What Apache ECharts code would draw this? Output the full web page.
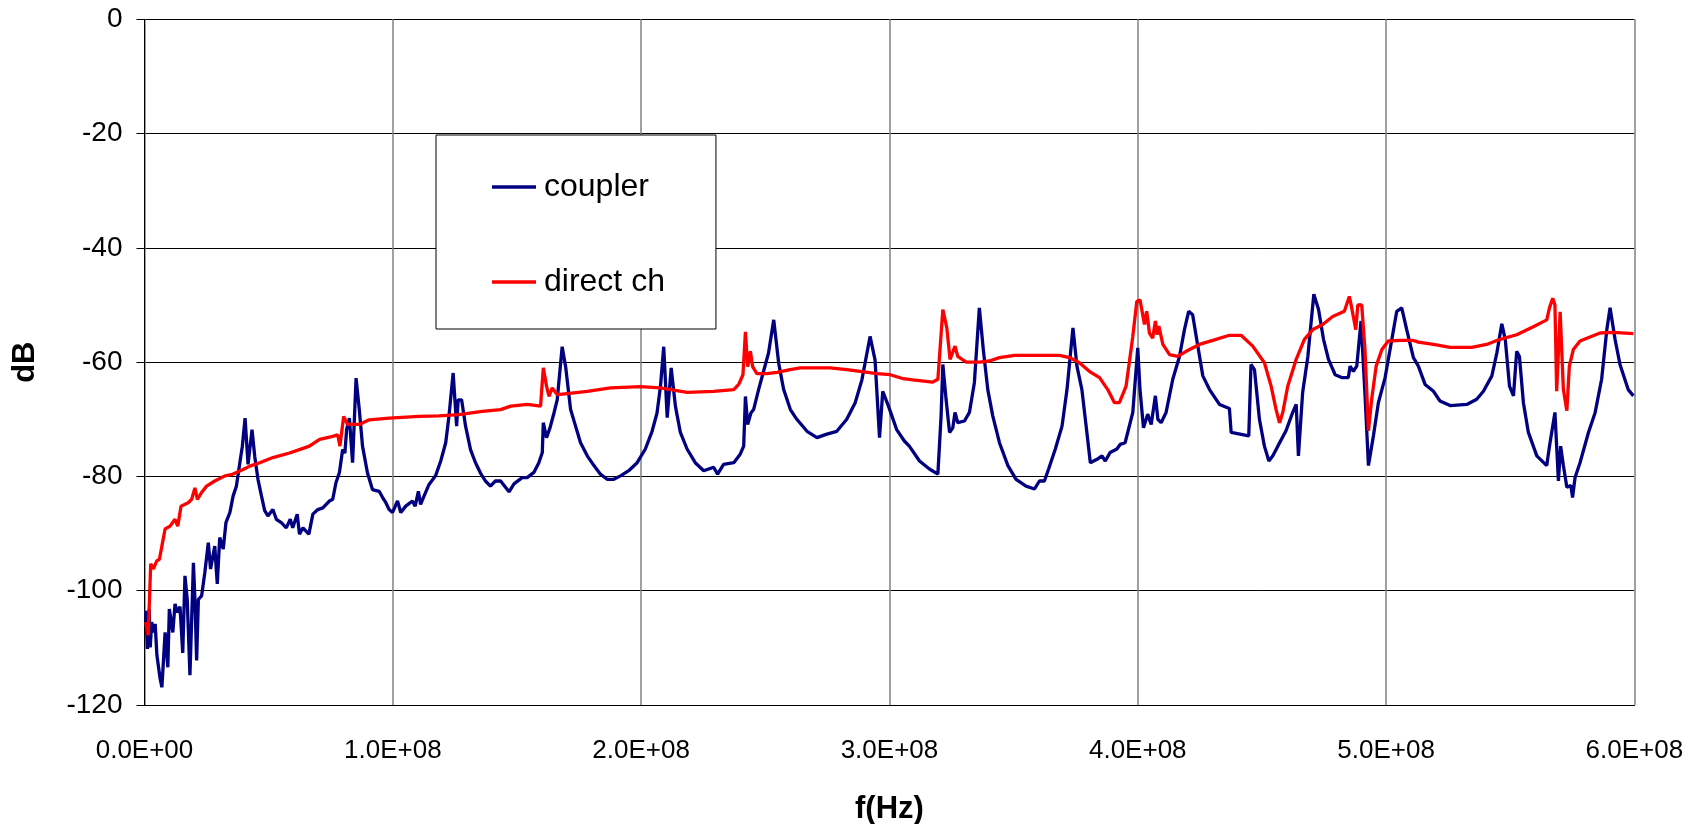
<!DOCTYPE html>
<html>
<head>
<meta charset="utf-8">
<title>coupler vs direct ch</title>
<script src="https://cdn.jsdelivr.net/npm/echarts@6/dist/echarts.min.js"></script>
<style>
  html, body { margin: 0; padding: 0; background: #fff; }
  #chart { width: 1707px; height: 824px; }
</style>
</head>
<body>
<div id="chart"></div>
<script>
// Frequency sweep, frequencies in MHz, attenuation in dB
const couplerFreqMHz = [
  0.5, 1.2, 1.9, 2.3, 2.9, 3.6, 4.3, 5.0, 6.3, 7.0, 8.3, 9.4, 10.0, 10.7, 11.4, 12.3, 13.2, 14.3, 15.4, 16.3,
  17.2, 18.3, 19.7, 20.3, 21.0, 21.7, 23.0, 24.3, 25.7, 26.6, 28.3, 29.3, 30.3, 31.7, 32.8, 34.4, 35.7, 37.0, 38.4, 39.4,
  40.5, 41.7, 43.3, 44.4, 45.7, 47.1, 48.4, 49.7, 51.7, 53.1, 55.1, 57.1, 58.7, 59.7, 61.5, 62.4, 63.8, 66.2, 67.8, 69.8,
  71.8, 74.5, 75.8, 77.1, 78.5, 79.8, 80.7, 81.4, 82.5, 83.8, 85.2, 86.5, 87.8, 89.8, 91.8, 94.5, 95.9, 97.2, 98.5, 99.9,
  101.9, 103.2, 105.2, 107.9, 109.0, 110.3, 111.2, 112.6, 114.6, 117.2, 119.3, 121.3, 122.6, 124.3, 125.7, 126.3, 127.7, 129.3, 131.3, 133.3,
  135.3, 137.3, 139.3, 141.3, 143.4, 146.8, 148.8, 152.1, 154.1, 156.8, 158.8, 160.2, 160.6, 161.9, 163.3, 164.9, 166.2, 168.2, 169.6, 171.6,
  173.6, 175.6, 178.3, 181.0, 183.6, 186.3, 189.0, 191.7, 195.0, 198.4, 201.7, 204.4, 206.4, 207.8, 209.1, 210.5, 212.1, 213.8, 215.8, 218.5,
  221.8, 225.2, 229.2, 230.8, 233.2, 237.3, 239.9, 241.3, 242.0, 242.9, 244.2, 245.3, 247.3, 249.3, 251.3, 253.4, 255.4, 257.4, 260.1, 262.7,
  266.8, 270.8, 274.8, 278.8, 282.8, 286.2, 288.9, 292.2, 294.2, 296.0, 297.3, 299.6, 302.9, 306.0, 308.0, 312.1, 316.1, 319.5, 320.8, 321.5,
  322.8, 324.2, 325.5, 326.4, 327.5, 330.2, 332.2, 334.2, 336.2, 337.8, 339.6, 341.6, 344.3, 347.7, 351.0, 355.0, 358.4, 360.4, 362.4, 364.1,
  366.8, 369.5, 371.5, 373.9, 375.5, 377.5, 379.5, 380.9, 383.6, 385.6, 386.9, 388.9, 391.6, 392.9, 394.9, 398.0, 400.0, 400.9, 402.3, 404.0,
  405.4, 407.1, 408.1, 409.4, 411.4, 414.1, 416.8, 418.8, 420.5, 422.1, 424.2, 426.2, 428.9, 432.9, 436.9, 437.6, 444.7, 445.6, 447.0, 449.0,
  451.0, 452.8, 454.4, 456.4, 459.7, 462.4, 463.8, 464.7, 466.4, 468.5, 470.9, 472.8, 474.8, 476.8, 479.5, 482.1, 484.8, 485.5, 486.8, 488.2,
  489.9, 491.5, 492.9, 494.9, 496.9, 499.6, 501.6, 504.3, 506.3, 508.3, 511.0, 513.0, 515.7, 519.1, 521.7, 525.8, 532.5, 536.5, 539.2, 542.6,
  544.6, 546.6, 548.0, 549.7, 551.3, 552.6, 553.7, 555.3, 557.3, 560.7, 564.7, 565.8, 568.0, 569.4, 570.3, 571.4, 572.8, 574.4, 575.1, 576.1,
  578.1, 581.5, 584.2, 586.8, 588.9, 590.2, 592.2, 594.2, 597.5, 599.6
];
const couplerDb = [
  -103.5, -110.2, -103.2, -109.9, -105.5, -107.3, -105.8, -111.3, -115.4, -116.9, -107.3, -113.4, -103.2, -103.2, -107.3, -102.3, -103.8, -102.8, -110.9, -97.4,
  -101.5, -114.8, -95.1, -101.5, -112.2, -101.5, -100.9, -96.8, -91.6, -96.2, -92.2, -98.8, -90.7, -92.7, -88.1, -86.3, -83.4, -81.7, -77.6, -74.7,
  -69.8, -77.9, -71.8, -76.5, -80.5, -83.4, -86.0, -86.9, -85.8, -87.5, -88.1, -89.0, -87.5, -89.0, -86.6, -90.1, -89.0, -90.1, -86.6, -85.8,
  -85.5, -84.3, -84.0, -81.1, -79.3, -75.3, -75.9, -71.8, -69.8, -77.6, -62.8, -68.3, -74.7, -79.4, -82.3, -82.6, -83.7, -84.6, -85.8, -86.3,
  -84.3, -86.3, -85.2, -84.3, -85.2, -82.6, -84.9, -83.4, -81.4, -79.9, -77.3, -74.1, -69.5, -61.9, -71.2, -66.6, -66.6, -71.2, -75.3, -77.6,
  -79.4, -80.8, -81.7, -80.8, -80.8, -82.7, -81.3, -80.2, -80.2, -79.3, -77.6, -75.8, -70.6, -73.2, -71.5, -68.9, -66.6, -57.3, -60.8, -68.3,
  -71.2, -74.1, -76.4, -78.1, -79.6, -80.5, -80.5, -79.9, -79.0, -77.6, -75.2, -72.1, -68.9, -64.2, -57.3, -69.7, -61.0, -67.7, -72.3, -75.2,
  -77.6, -79.0, -78.4, -79.6, -77.9, -77.6, -76.1, -74.7, -66.0, -70.9, -68.9, -68.3, -64.8, -61.6, -58.4, -52.6, -60.2, -64.8, -68.3, -70.0,
  -72.1, -73.2, -72.6, -72.1, -70.0, -67.1, -63.1, -55.5, -59.6, -73.2, -65.1, -67.7, -71.8, -73.8, -74.7, -77.3, -78.7, -79.6, -69.4, -60.4,
  -66.5, -72.3, -71.5, -68.8, -70.6, -70.3, -68.8, -63.6, -50.5, -57.8, -64.8, -69.4, -74.1, -78.1, -80.5, -81.7, -82.2, -80.8, -80.8, -78.7,
  -75.2, -71.2, -64.8, -54.0, -60.7, -64.8, -72.3, -77.6, -77.0, -76.4, -77.3, -75.8, -75.2, -74.4, -74.1, -68.8, -57.5, -64.8, -71.5, -69.1,
  -70.9, -65.9, -70.0, -70.6, -68.8, -63.0, -59.0, -54.3, -51.1, -51.7, -57.2, -62.4, -64.8, -67.4, -68.1, -72.3, -72.9, -60.4, -61.3, -70.0,
  -74.7, -77.3, -76.4, -74.7, -72.0, -68.8, -67.4, -76.4, -65.3, -59.0, -48.1, -50.8, -56.0, -59.5, -62.2, -62.7, -62.7, -60.7, -61.6, -60.7,
  -52.8, -65.6, -78.1, -72.9, -67.1, -62.7, -57.8, -51.1, -50.5, -54.3, -59.2, -60.7, -63.9, -65.1, -66.8, -67.6, -67.4, -66.5, -65.1, -62.4,
  -58.4, -53.3, -56.0, -64.2, -65.9, -58.1, -59.0, -67.1, -72.3, -76.4, -78.1, -74.7, -68.8, -80.8, -74.7, -78.1, -81.9, -81.6, -83.7, -80.2,
  -77.6, -72.3, -68.8, -63.0, -54.3, -50.5, -56.0, -60.4, -64.8, -65.9
];

const directFreqMHz = [
  0.5, 1.5, 2.5, 3.6, 4.9, 6.0, 7.0, 8.3, 10.3, 12.3, 13.4, 14.7, 17.6, 19.0, 20.3, 21.3, 23.0, 25.0, 28.3, 32.4,
  35.0, 39.7, 42.4, 46.4, 51.7, 58.4, 62.4, 66.4, 70.5, 75.8, 77.8, 78.7, 80.2, 81.8, 86.5, 90.5, 98.5, 110.6, 118.6, 126.6,
  136.0, 143.4, 147.5, 154.2, 159.5, 160.6, 161.9, 162.9, 164.2, 166.2, 170.2, 178.3, 187.7, 199.7, 207.8, 213.1, 218.5, 229.2, 237.3, 239.3,
  241.0, 242.0, 242.9, 244.0, 244.9, 246.6, 250.7, 254.7, 260.0, 264.1, 268.8, 276.1, 282.8, 288.2, 294.9, 300.3, 305.6, 309.4, 317.4, 319.5,
  321.5, 323.1, 324.4, 326.4, 327.5, 330.9, 336.2, 340.3, 344.3, 350.3, 357.7, 368.5, 372.5, 376.5, 380.5, 384.6, 387.9, 390.6, 392.6, 395.3,
  398.0, 399.6, 400.9, 402.7, 403.6, 404.7, 406.0, 407.1, 407.8, 408.5, 410.1, 412.8, 416.1, 419.5, 424.8, 430.2, 436.9, 441.6, 446.3, 451.0,
  453.7, 455.7, 457.1, 458.4, 460.4, 463.8, 467.1, 470.5, 474.5, 478.5, 483.2, 485.2, 486.2, 487.8, 488.6, 490.2, 491.5, 492.9, 494.2, 496.0,
  498.3, 500.9, 505.6, 511.0, 513.0, 519.1, 525.8, 534.5, 540.5, 545.9, 552.6, 559.3, 564.7, 565.8, 567.1, 568.0, 568.7, 570.1, 571.4, 572.8,
  573.8, 575.4, 578.1, 582.1, 586.2, 591.5, 599.6
];
const directDb = [
  -105.5, -107.8, -95.3, -96.2, -94.8, -94.5, -92.2, -89.2, -88.7, -87.5, -88.7, -85.2, -84.6, -84.0, -82.0, -84.0, -82.8, -81.7, -80.8, -79.9,
  -79.7, -78.8, -78.2, -77.6, -76.7, -75.9, -75.3, -74.7, -73.5, -73.0, -72.7, -74.7, -69.5, -70.9, -70.9, -70.1, -69.8, -69.5, -69.4, -69.2,
  -68.6, -68.3, -67.7, -67.4, -67.7, -61.0, -64.2, -66.0, -64.5, -65.7, -65.5, -65.1, -64.5, -64.3, -64.5, -64.9, -65.3, -65.1, -64.8, -63.9,
  -62.2, -54.7, -60.8, -58.1, -60.8, -62.0, -62.0, -61.8, -61.3, -61.0, -61.0, -61.0, -61.3, -61.6, -62.0, -62.2, -62.9, -63.1, -63.5, -63.0,
  -50.8, -54.0, -59.5, -57.2, -59.0, -60.0, -60.0, -59.8, -59.2, -58.8, -58.8, -58.8, -59.2, -60.1, -61.6, -62.7, -64.8, -67.1, -67.1, -64.2,
  -55.5, -49.4, -49.1, -53.4, -51.1, -54.9, -55.8, -52.8, -55.2, -53.7, -56.9, -58.7, -59.0, -58.1, -56.9, -56.2, -55.3, -55.3, -57.2, -60.1,
  -64.2, -68.3, -70.6, -68.8, -64.2, -59.5, -56.0, -54.3, -53.4, -52.0, -51.1, -48.5, -50.6, -54.3, -50.0, -50.0, -57.8, -72.0, -66.5, -60.7,
  -57.8, -56.3, -56.2, -56.2, -56.5, -56.9, -57.4, -57.4, -56.9, -56.0, -55.2, -53.8, -52.6, -50.5, -48.8, -50.0, -65.1, -51.2, -64.8, -68.5,
  -60.7, -57.8, -56.3, -55.6, -54.9, -54.8, -55.0
];

// Axis ticks
const freqTicksHz = [0, 1e8, 2e8, 3e8, 4e8, 5e8, 6e8];
const dbTicks = [-120, -100, -80, -60, -40, -20, 0];

const FONT = '"Liberation Sans", Arial, Helvetica, sans-serif';

function pairs(freqMHz, db) {
  return freqMHz.map((f, i) => [f * 1e6, db[i]]);
}

// Excel-style scientific label, e.g. 1.0E+08
function sciLabel(v) {
  if (v === 0) return '0.0E+00';
  const e = Math.floor(Math.log10(Math.abs(v)) + 1e-9);
  const m = v / Math.pow(10, e);
  return m.toFixed(1) + 'E' + (e < 0 ? '-' : '+') + String(Math.abs(e)).padStart(2, '0');
}

const chart = echarts.init(document.getElementById('chart'), null, { renderer: 'canvas' });

chart.setOption({
  animation: false,
  backgroundColor: '#ffffff',
  grid: {
    left: 144.5, right: 72.6, top: 19.3, bottom: 119,
    containLabel: false,
    outerBoundsMode: 'none'
  },
  legend: {
    orient: 'vertical',
    left: 436,
    top: 135,
    padding: [36, 51, 31, 56],
    itemGap: 63,
    itemWidth: 44,
    itemHeight: 3.5,
    icon: 'rect',
    backgroundColor: '#ffffff',
    borderColor: '#000000',
    borderWidth: 1,
    textStyle: { fontFamily: FONT, fontSize: 32, color: '#000', padding: [0, 0, 0, 3] },
    data: ['coupler', 'direct ch']
  },
  xAxis: {
    type: 'value',
    min: freqTicksHz[0],
    max: freqTicksHz[freqTicksHz.length - 1],
    interval: freqTicksHz[1] - freqTicksHz[0],
    name: 'f(Hz)',
    nameLocation: 'middle',
    nameGap: 89,
    nameTextStyle: { fontFamily: FONT, fontSize: 31, fontWeight: 'bold', color: '#000' },
    axisLine: { show: true, onZero: false, lineStyle: { color: '#000', width: 1 } },
    axisTick: { show: false },
    axisLabel: { fontFamily: FONT, fontSize: 26, color: '#000', margin: 33, formatter: sciLabel },
    splitLine: { show: true, lineStyle: { color: '#808080', width: 1.5 } }
  },
  yAxis: {
    type: 'value',
    min: dbTicks[0],
    max: dbTicks[dbTicks.length - 1],
    interval: dbTicks[1] - dbTicks[0],
    name: 'dB',
    nameLocation: 'middle',
    nameRotate: 90,
    nameGap: 104,
    nameTextStyle: { fontFamily: FONT, fontSize: 31, fontWeight: 'bold', color: '#000' },
    axisLine: { show: true, onZero: false, lineStyle: { color: '#000', width: 1 } },
    axisTick: { show: true, inside: false, length: 8, lineStyle: { color: '#000', width: 1 } },
    axisLabel: { fontFamily: FONT, fontSize: 28, color: '#000', margin: 22 },
    splitLine: { show: true, lineStyle: { color: '#000', width: 1 } }
  },
  series: [
    {
      name: 'coupler',
      type: 'line',
      symbol: 'none',
      color: '#000080',
      lineStyle: { color: '#000080', width: 3.3 },
      data: pairs(couplerFreqMHz, couplerDb),
      z: 3
    },
    {
      name: 'direct ch',
      type: 'line',
      symbol: 'none',
      color: '#ff0000',
      lineStyle: { color: '#ff0000', width: 3.3 },
      data: pairs(directFreqMHz, directDb),
      z: 4
    }
  ]
});
</script>
</body>
</html>
